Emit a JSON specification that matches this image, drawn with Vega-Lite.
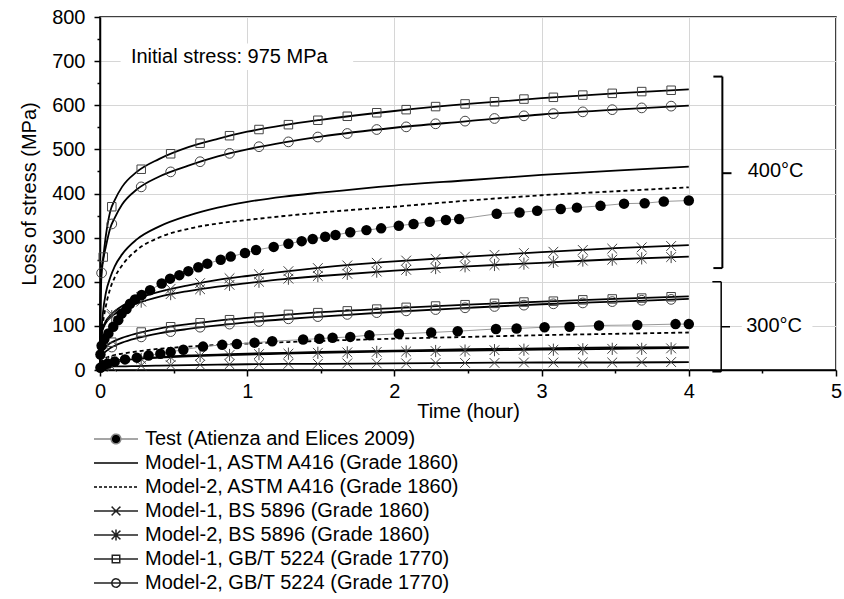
{
  "$schema": "https://vega.github.io/schema/vega-lite/v6.json",
  "autosize": {"type": "none"},
  "width": 736,
  "height": 353,
  "padding": {"left": 100, "top": 17, "right": 8, "bottom": 229},
  "config": {
    "font": "Liberation Sans",
    "view": {"stroke": "black", "strokeWidth": 1.5},
    "axis": {
      "labelFont": "Liberation Sans", "titleFont": "Liberation Sans",
      "labelFontSize": 20, "titleFontSize": 20, "titleFontWeight": "normal",
      "labelColor": "black", "titleColor": "black",
      "domainColor": "black", "domainWidth": 1.5,
      "tickColor": "black", "tickWidth": 1.5,
      "grid": true, "gridWidth": 1,
      "labelOverlap": false, "labelFlush": false
    },
    "legend": {
      "orient": "none", "legendX": -7, "legendY": 412, "direction": "vertical",
      "labelFont": "Liberation Sans", "labelFontSize": 20, "labelColor": "black",
      "symbolSize": 1936, "labelOffset": 6, "rowPadding": 4, "padding": 0,
      "clipHeight": 20, "labelLimit": 600, "symbolStrokeWidth": 1.5
    }
  },
  "datasets": {
    "curves": [
      {"code":"A1","temp":400,"t":0,"loss":0},{"code":"A1","temp":400,"t":0.001,"loss":30},{"code":"A1","temp":400,"t":0.005,"loss":65},{"code":"A1","temp":400,"t":0.01,"loss":90},{"code":"A1","temp":400,"t":0.02,"loss":130},{"code":"A1","temp":400,"t":0.04,"loss":175},{"code":"A1","temp":400,"t":0.07,"loss":210},{"code":"A1","temp":400,"t":0.1,"loss":235},{"code":"A1","temp":400,"t":0.15,"loss":262},{"code":"A1","temp":400,"t":0.25,"loss":296},{"code":"A1","temp":400,"t":0.4,"loss":325},{"code":"A1","temp":400,"t":0.6,"loss":350},{"code":"A1","temp":400,"t":0.8,"loss":368},{"code":"A1","temp":400,"t":1,"loss":381},{"code":"A1","temp":400,"t":1.25,"loss":393},{"code":"A1","temp":400,"t":1.5,"loss":402},{"code":"A1","temp":400,"t":2,"loss":418},{"code":"A1","temp":400,"t":2.5,"loss":430},{"code":"A1","temp":400,"t":3,"loss":442},{"code":"A1","temp":400,"t":3.5,"loss":452},{"code":"A1","temp":400,"t":4,"loss":461},
      {"code":"A2","temp":400,"t":0,"loss":0},{"code":"A2","temp":400,"t":0.001,"loss":25},{"code":"A2","temp":400,"t":0.005,"loss":50},{"code":"A2","temp":400,"t":0.01,"loss":70},{"code":"A2","temp":400,"t":0.02,"loss":105},{"code":"A2","temp":400,"t":0.04,"loss":145},{"code":"A2","temp":400,"t":0.07,"loss":185},{"code":"A2","temp":400,"t":0.1,"loss":210},{"code":"A2","temp":400,"t":0.15,"loss":237},{"code":"A2","temp":400,"t":0.25,"loss":272},{"code":"A2","temp":400,"t":0.4,"loss":300},{"code":"A2","temp":400,"t":0.6,"loss":320},{"code":"A2","temp":400,"t":0.8,"loss":332},{"code":"A2","temp":400,"t":1,"loss":340},{"code":"A2","temp":400,"t":1.25,"loss":349},{"code":"A2","temp":400,"t":1.5,"loss":357},{"code":"A2","temp":400,"t":2,"loss":370},{"code":"A2","temp":400,"t":2.5,"loss":384},{"code":"A2","temp":400,"t":3,"loss":396},{"code":"A2","temp":400,"t":3.5,"loss":405},{"code":"A2","temp":400,"t":4,"loss":414},
      {"code":"B1","temp":400,"t":0,"loss":0},{"code":"B1","temp":400,"t":0.001,"loss":52},{"code":"B1","temp":400,"t":0.005,"loss":72},{"code":"B1","temp":400,"t":0.01,"loss":83},{"code":"B1","temp":400,"t":0.02,"loss":96},{"code":"B1","temp":400,"t":0.04,"loss":111},{"code":"B1","temp":400,"t":0.07,"loss":124},{"code":"B1","temp":400,"t":0.1,"loss":133},{"code":"B1","temp":400,"t":0.15,"loss":145},{"code":"B1","temp":400,"t":0.25,"loss":161},{"code":"B1","temp":400,"t":0.4,"loss":177},{"code":"B1","temp":400,"t":0.6,"loss":192},{"code":"B1","temp":400,"t":0.8,"loss":204},{"code":"B1","temp":400,"t":1,"loss":213},{"code":"B1","temp":400,"t":1.25,"loss":223},{"code":"B1","temp":400,"t":1.5,"loss":232},{"code":"B1","temp":400,"t":2,"loss":246},{"code":"B1","temp":400,"t":2.5,"loss":257},{"code":"B1","temp":400,"t":3,"loss":267},{"code":"B1","temp":400,"t":3.5,"loss":276},{"code":"B1","temp":400,"t":4,"loss":283},
      {"code":"B2","temp":400,"t":0,"loss":0},{"code":"B2","temp":400,"t":0.001,"loss":53},{"code":"B2","temp":400,"t":0.005,"loss":72},{"code":"B2","temp":400,"t":0.01,"loss":82},{"code":"B2","temp":400,"t":0.02,"loss":93},{"code":"B2","temp":400,"t":0.04,"loss":107},{"code":"B2","temp":400,"t":0.07,"loss":119},{"code":"B2","temp":400,"t":0.1,"loss":127},{"code":"B2","temp":400,"t":0.15,"loss":137},{"code":"B2","temp":400,"t":0.25,"loss":151},{"code":"B2","temp":400,"t":0.4,"loss":166},{"code":"B2","temp":400,"t":0.6,"loss":179},{"code":"B2","temp":400,"t":0.8,"loss":189},{"code":"B2","temp":400,"t":1,"loss":197},{"code":"B2","temp":400,"t":1.25,"loss":206},{"code":"B2","temp":400,"t":1.5,"loss":213},{"code":"B2","temp":400,"t":2,"loss":225},{"code":"B2","temp":400,"t":2.5,"loss":235},{"code":"B2","temp":400,"t":3,"loss":243},{"code":"B2","temp":400,"t":3.5,"loss":251},{"code":"B2","temp":400,"t":4,"loss":257},
      {"code":"G1","temp":400,"t":0,"loss":0},{"code":"G1","temp":400,"t":0.001,"loss":90},{"code":"G1","temp":400,"t":0.005,"loss":180},{"code":"G1","temp":400,"t":0.01,"loss":225},{"code":"G1","temp":400,"t":0.02,"loss":250},{"code":"G1","temp":400,"t":0.04,"loss":305},{"code":"G1","temp":400,"t":0.07,"loss":360},{"code":"G1","temp":400,"t":0.1,"loss":385},{"code":"G1","temp":400,"t":0.15,"loss":415},{"code":"G1","temp":400,"t":0.25,"loss":449},{"code":"G1","temp":400,"t":0.4,"loss":478},{"code":"G1","temp":400,"t":0.6,"loss":505},{"code":"G1","temp":400,"t":0.8,"loss":524},{"code":"G1","temp":400,"t":1,"loss":540},{"code":"G1","temp":400,"t":1.25,"loss":555},{"code":"G1","temp":400,"t":1.5,"loss":567},{"code":"G1","temp":400,"t":2,"loss":587},{"code":"G1","temp":400,"t":2.5,"loss":603},{"code":"G1","temp":400,"t":3,"loss":616},{"code":"G1","temp":400,"t":3.5,"loss":627},{"code":"G1","temp":400,"t":4,"loss":636},
      {"code":"G2","temp":400,"t":0,"loss":0},{"code":"G2","temp":400,"t":0.001,"loss":75},{"code":"G2","temp":400,"t":0.005,"loss":160},{"code":"G2","temp":400,"t":0.01,"loss":215},{"code":"G2","temp":400,"t":0.02,"loss":245},{"code":"G2","temp":400,"t":0.04,"loss":280},{"code":"G2","temp":400,"t":0.07,"loss":322},{"code":"G2","temp":400,"t":0.1,"loss":345},{"code":"G2","temp":400,"t":0.15,"loss":375},{"code":"G2","temp":400,"t":0.25,"loss":409},{"code":"G2","temp":400,"t":0.4,"loss":438},{"code":"G2","temp":400,"t":0.6,"loss":463},{"code":"G2","temp":400,"t":0.8,"loss":484},{"code":"G2","temp":400,"t":1,"loss":500},{"code":"G2","temp":400,"t":1.25,"loss":516},{"code":"G2","temp":400,"t":1.5,"loss":529},{"code":"G2","temp":400,"t":2,"loss":549},{"code":"G2","temp":400,"t":2.5,"loss":564},{"code":"G2","temp":400,"t":3,"loss":579},{"code":"G2","temp":400,"t":3.5,"loss":590},{"code":"G2","temp":400,"t":4,"loss":599},
      {"code":"A1","temp":300,"t":0,"loss":0},{"code":"A1","temp":300,"t":0.001,"loss":7},{"code":"A1","temp":300,"t":0.005,"loss":10},{"code":"A1","temp":300,"t":0.01,"loss":12},{"code":"A1","temp":300,"t":0.02,"loss":14},{"code":"A1","temp":300,"t":0.04,"loss":17},{"code":"A1","temp":300,"t":0.07,"loss":19},{"code":"A1","temp":300,"t":0.1,"loss":21},{"code":"A1","temp":300,"t":0.15,"loss":23},{"code":"A1","temp":300,"t":0.25,"loss":26},{"code":"A1","temp":300,"t":0.4,"loss":29},{"code":"A1","temp":300,"t":0.6,"loss":33},{"code":"A1","temp":300,"t":0.8,"loss":35},{"code":"A1","temp":300,"t":1,"loss":37},{"code":"A1","temp":300,"t":1.25,"loss":39},{"code":"A1","temp":300,"t":1.5,"loss":41},{"code":"A1","temp":300,"t":2,"loss":44},{"code":"A1","temp":300,"t":2.5,"loss":47},{"code":"A1","temp":300,"t":3,"loss":49},{"code":"A1","temp":300,"t":3.5,"loss":51},{"code":"A1","temp":300,"t":4,"loss":52},
      {"code":"A2","temp":300,"t":0,"loss":0},{"code":"A2","temp":300,"t":0.001,"loss":11},{"code":"A2","temp":300,"t":0.005,"loss":16},{"code":"A2","temp":300,"t":0.01,"loss":19},{"code":"A2","temp":300,"t":0.02,"loss":23},{"code":"A2","temp":300,"t":0.04,"loss":27},{"code":"A2","temp":300,"t":0.07,"loss":31},{"code":"A2","temp":300,"t":0.1,"loss":34},{"code":"A2","temp":300,"t":0.15,"loss":37},{"code":"A2","temp":300,"t":0.25,"loss":42},{"code":"A2","temp":300,"t":0.4,"loss":48},{"code":"A2","temp":300,"t":0.6,"loss":53},{"code":"A2","temp":300,"t":0.8,"loss":57},{"code":"A2","temp":300,"t":1,"loss":60},{"code":"A2","temp":300,"t":1.25,"loss":63},{"code":"A2","temp":300,"t":1.5,"loss":66},{"code":"A2","temp":300,"t":2,"loss":71},{"code":"A2","temp":300,"t":2.5,"loss":75},{"code":"A2","temp":300,"t":3,"loss":79},{"code":"A2","temp":300,"t":3.5,"loss":82},{"code":"A2","temp":300,"t":4,"loss":85},
      {"code":"B1","temp":300,"t":0,"loss":0},{"code":"B1","temp":300,"t":0.001,"loss":3},{"code":"B1","temp":300,"t":0.005,"loss":4},{"code":"B1","temp":300,"t":0.01,"loss":5},{"code":"B1","temp":300,"t":0.02,"loss":5},{"code":"B1","temp":300,"t":0.04,"loss":6},{"code":"B1","temp":300,"t":0.07,"loss":7},{"code":"B1","temp":300,"t":0.1,"loss":8},{"code":"B1","temp":300,"t":0.15,"loss":8},{"code":"B1","temp":300,"t":0.25,"loss":9},{"code":"B1","temp":300,"t":0.4,"loss":10},{"code":"B1","temp":300,"t":0.6,"loss":11},{"code":"B1","temp":300,"t":0.8,"loss":12},{"code":"B1","temp":300,"t":1,"loss":13},{"code":"B1","temp":300,"t":1.25,"loss":14},{"code":"B1","temp":300,"t":1.5,"loss":14},{"code":"B1","temp":300,"t":2,"loss":15},{"code":"B1","temp":300,"t":2.5,"loss":16},{"code":"B1","temp":300,"t":3,"loss":17},{"code":"B1","temp":300,"t":3.5,"loss":17},{"code":"B1","temp":300,"t":4,"loss":18},
      {"code":"B2","temp":300,"t":0,"loss":0},{"code":"B2","temp":300,"t":0.001,"loss":6},{"code":"B2","temp":300,"t":0.005,"loss":9},{"code":"B2","temp":300,"t":0.01,"loss":11},{"code":"B2","temp":300,"t":0.02,"loss":13},{"code":"B2","temp":300,"t":0.04,"loss":16},{"code":"B2","temp":300,"t":0.07,"loss":18},{"code":"B2","temp":300,"t":0.1,"loss":20},{"code":"B2","temp":300,"t":0.15,"loss":22},{"code":"B2","temp":300,"t":0.25,"loss":25},{"code":"B2","temp":300,"t":0.4,"loss":28},{"code":"B2","temp":300,"t":0.6,"loss":31},{"code":"B2","temp":300,"t":0.8,"loss":33},{"code":"B2","temp":300,"t":1,"loss":35},{"code":"B2","temp":300,"t":1.25,"loss":37},{"code":"B2","temp":300,"t":1.5,"loss":39},{"code":"B2","temp":300,"t":2,"loss":42},{"code":"B2","temp":300,"t":2.5,"loss":44},{"code":"B2","temp":300,"t":3,"loss":46},{"code":"B2","temp":300,"t":3.5,"loss":48},{"code":"B2","temp":300,"t":4,"loss":50},
      {"code":"G1","temp":300,"t":0,"loss":0},{"code":"G1","temp":300,"t":0.001,"loss":21},{"code":"G1","temp":300,"t":0.005,"loss":31},{"code":"G1","temp":300,"t":0.01,"loss":37},{"code":"G1","temp":300,"t":0.02,"loss":44},{"code":"G1","temp":300,"t":0.04,"loss":53},{"code":"G1","temp":300,"t":0.07,"loss":61},{"code":"G1","temp":300,"t":0.1,"loss":66},{"code":"G1","temp":300,"t":0.15,"loss":73},{"code":"G1","temp":300,"t":0.25,"loss":83},{"code":"G1","temp":300,"t":0.4,"loss":94},{"code":"G1","temp":300,"t":0.6,"loss":104},{"code":"G1","temp":300,"t":0.8,"loss":112},{"code":"G1","temp":300,"t":1,"loss":118},{"code":"G1","temp":300,"t":1.25,"loss":125},{"code":"G1","temp":300,"t":1.5,"loss":131},{"code":"G1","temp":300,"t":2,"loss":140},{"code":"G1","temp":300,"t":2.5,"loss":148},{"code":"G1","temp":300,"t":3,"loss":155},{"code":"G1","temp":300,"t":3.5,"loss":161},{"code":"G1","temp":300,"t":4,"loss":167},
      {"code":"G2","temp":300,"t":0,"loss":0},{"code":"G2","temp":300,"t":0.001,"loss":15},{"code":"G2","temp":300,"t":0.005,"loss":23},{"code":"G2","temp":300,"t":0.01,"loss":28},{"code":"G2","temp":300,"t":0.02,"loss":35},{"code":"G2","temp":300,"t":0.04,"loss":42},{"code":"G2","temp":300,"t":0.07,"loss":50},{"code":"G2","temp":300,"t":0.1,"loss":55},{"code":"G2","temp":300,"t":0.15,"loss":62},{"code":"G2","temp":300,"t":0.25,"loss":72},{"code":"G2","temp":300,"t":0.4,"loss":83},{"code":"G2","temp":300,"t":0.6,"loss":93},{"code":"G2","temp":300,"t":0.8,"loss":101},{"code":"G2","temp":300,"t":1,"loss":108},{"code":"G2","temp":300,"t":1.25,"loss":115},{"code":"G2","temp":300,"t":1.5,"loss":121},{"code":"G2","temp":300,"t":2,"loss":132},{"code":"G2","temp":300,"t":2.5,"loss":141},{"code":"G2","temp":300,"t":3,"loss":149},{"code":"G2","temp":300,"t":3.5,"loss":155},{"code":"G2","temp":300,"t":4,"loss":161}
    ],
    "markers": [
      {"code":"G1","temp":400,"t":0.022,"loss":256},{"code":"G1","temp":400,"t":0.08,"loss":370},{"code":"G1","temp":400,"t":0.28,"loss":455},{"code":"G1","temp":400,"t":0.48,"loss":490},{"code":"G1","temp":400,"t":0.68,"loss":514},{"code":"G1","temp":400,"t":0.88,"loss":531},{"code":"G1","temp":400,"t":1.08,"loss":545},{"code":"G1","temp":400,"t":1.28,"loss":556},{"code":"G1","temp":400,"t":1.48,"loss":566},{"code":"G1","temp":400,"t":1.68,"loss":575},{"code":"G1","temp":400,"t":1.88,"loss":583},{"code":"G1","temp":400,"t":2.08,"loss":590},{"code":"G1","temp":400,"t":2.28,"loss":597},{"code":"G1","temp":400,"t":2.48,"loss":603},{"code":"G1","temp":400,"t":2.68,"loss":608},{"code":"G1","temp":400,"t":2.88,"loss":614},{"code":"G1","temp":400,"t":3.08,"loss":618},{"code":"G1","temp":400,"t":3.28,"loss":623},{"code":"G1","temp":400,"t":3.48,"loss":627},{"code":"G1","temp":400,"t":3.68,"loss":631},{"code":"G1","temp":400,"t":3.88,"loss":634},
      {"code":"G2","temp":400,"t":0.011,"loss":220},{"code":"G2","temp":400,"t":0.08,"loss":331},{"code":"G2","temp":400,"t":0.28,"loss":415},{"code":"G2","temp":400,"t":0.48,"loss":449},{"code":"G2","temp":400,"t":0.68,"loss":472},{"code":"G2","temp":400,"t":0.88,"loss":491},{"code":"G2","temp":400,"t":1.08,"loss":506},{"code":"G2","temp":400,"t":1.28,"loss":517},{"code":"G2","temp":400,"t":1.48,"loss":528},{"code":"G2","temp":400,"t":1.68,"loss":536},{"code":"G2","temp":400,"t":1.88,"loss":545},{"code":"G2","temp":400,"t":2.08,"loss":551},{"code":"G2","temp":400,"t":2.28,"loss":558},{"code":"G2","temp":400,"t":2.48,"loss":564},{"code":"G2","temp":400,"t":2.68,"loss":570},{"code":"G2","temp":400,"t":2.88,"loss":576},{"code":"G2","temp":400,"t":3.08,"loss":581},{"code":"G2","temp":400,"t":3.28,"loss":585},{"code":"G2","temp":400,"t":3.48,"loss":590},{"code":"G2","temp":400,"t":3.68,"loss":594},{"code":"G2","temp":400,"t":3.88,"loss":598},
      {"code":"B1","temp":400,"t":0.08,"loss":127},{"code":"B1","temp":400,"t":0.28,"loss":165},{"code":"B1","temp":400,"t":0.48,"loss":184},{"code":"B1","temp":400,"t":0.68,"loss":197},{"code":"B1","temp":400,"t":0.88,"loss":208},{"code":"B1","temp":400,"t":1.08,"loss":217},{"code":"B1","temp":400,"t":1.28,"loss":224},{"code":"B1","temp":400,"t":1.48,"loss":231},{"code":"B1","temp":400,"t":1.68,"loss":237},{"code":"B1","temp":400,"t":1.88,"loss":243},{"code":"B1","temp":400,"t":2.08,"loss":248},{"code":"B1","temp":400,"t":2.28,"loss":252},{"code":"B1","temp":400,"t":2.48,"loss":257},{"code":"B1","temp":400,"t":2.68,"loss":261},{"code":"B1","temp":400,"t":2.88,"loss":265},{"code":"B1","temp":400,"t":3.08,"loss":268},{"code":"B1","temp":400,"t":3.28,"loss":272},{"code":"B1","temp":400,"t":3.48,"loss":275},{"code":"B1","temp":400,"t":3.68,"loss":278},{"code":"B1","temp":400,"t":3.88,"loss":281},
      {"code":"B2","temp":400,"t":0.08,"loss":122},{"code":"B2","temp":400,"t":0.28,"loss":155},{"code":"B2","temp":400,"t":0.48,"loss":172},{"code":"B2","temp":400,"t":0.68,"loss":183},{"code":"B2","temp":400,"t":0.88,"loss":193},{"code":"B2","temp":400,"t":1.08,"loss":200},{"code":"B2","temp":400,"t":1.28,"loss":207},{"code":"B2","temp":400,"t":1.48,"loss":213},{"code":"B2","temp":400,"t":1.68,"loss":218},{"code":"B2","temp":400,"t":1.88,"loss":223},{"code":"B2","temp":400,"t":2.08,"loss":227},{"code":"B2","temp":400,"t":2.28,"loss":231},{"code":"B2","temp":400,"t":2.48,"loss":235},{"code":"B2","temp":400,"t":2.68,"loss":238},{"code":"B2","temp":400,"t":2.88,"loss":241},{"code":"B2","temp":400,"t":3.08,"loss":245},{"code":"B2","temp":400,"t":3.28,"loss":248},{"code":"B2","temp":400,"t":3.48,"loss":250},{"code":"B2","temp":400,"t":3.68,"loss":253},{"code":"B2","temp":400,"t":3.88,"loss":256},
      {"code":"G1","temp":300,"t":0.08,"loss":63},{"code":"G1","temp":300,"t":0.28,"loss":86},{"code":"G1","temp":300,"t":0.48,"loss":98},{"code":"G1","temp":300,"t":0.68,"loss":107},{"code":"G1","temp":300,"t":0.88,"loss":114},{"code":"G1","temp":300,"t":1.08,"loss":120},{"code":"G1","temp":300,"t":1.28,"loss":126},{"code":"G1","temp":300,"t":1.48,"loss":130},{"code":"G1","temp":300,"t":1.68,"loss":134},{"code":"G1","temp":300,"t":1.88,"loss":138},{"code":"G1","temp":300,"t":2.08,"loss":142},{"code":"G1","temp":300,"t":2.28,"loss":145},{"code":"G1","temp":300,"t":2.48,"loss":148},{"code":"G1","temp":300,"t":2.68,"loss":151},{"code":"G1","temp":300,"t":2.88,"loss":154},{"code":"G1","temp":300,"t":3.08,"loss":156},{"code":"G1","temp":300,"t":3.28,"loss":159},{"code":"G1","temp":300,"t":3.48,"loss":161},{"code":"G1","temp":300,"t":3.68,"loss":163},{"code":"G1","temp":300,"t":3.88,"loss":166},
      {"code":"G2","temp":300,"t":0.08,"loss":52},{"code":"G2","temp":300,"t":0.28,"loss":75},{"code":"G2","temp":300,"t":0.48,"loss":87},{"code":"G2","temp":300,"t":0.68,"loss":97},{"code":"G2","temp":300,"t":0.88,"loss":104},{"code":"G2","temp":300,"t":1.08,"loss":110},{"code":"G2","temp":300,"t":1.28,"loss":116},{"code":"G2","temp":300,"t":1.48,"loss":121},{"code":"G2","temp":300,"t":1.68,"loss":126},{"code":"G2","temp":300,"t":1.88,"loss":130},{"code":"G2","temp":300,"t":2.08,"loss":134},{"code":"G2","temp":300,"t":2.28,"loss":137},{"code":"G2","temp":300,"t":2.48,"loss":141},{"code":"G2","temp":300,"t":2.68,"loss":144},{"code":"G2","temp":300,"t":2.88,"loss":147},{"code":"G2","temp":300,"t":3.08,"loss":150},{"code":"G2","temp":300,"t":3.28,"loss":152},{"code":"G2","temp":300,"t":3.48,"loss":155},{"code":"G2","temp":300,"t":3.68,"loss":158},{"code":"G2","temp":300,"t":3.88,"loss":160},
      {"code":"B1","temp":300,"t":0.08,"loss":7},{"code":"B1","temp":300,"t":0.28,"loss":10},{"code":"B1","temp":300,"t":0.48,"loss":11},{"code":"B1","temp":300,"t":0.68,"loss":12},{"code":"B1","temp":300,"t":0.88,"loss":13},{"code":"B1","temp":300,"t":1.08,"loss":13},{"code":"B1","temp":300,"t":1.28,"loss":14},{"code":"B1","temp":300,"t":1.48,"loss":14},{"code":"B1","temp":300,"t":1.68,"loss":15},{"code":"B1","temp":300,"t":1.88,"loss":15},{"code":"B1","temp":300,"t":2.08,"loss":15},{"code":"B1","temp":300,"t":2.28,"loss":16},{"code":"B1","temp":300,"t":2.48,"loss":16},{"code":"B1","temp":300,"t":2.68,"loss":16},{"code":"B1","temp":300,"t":2.88,"loss":17},{"code":"B1","temp":300,"t":3.08,"loss":17},{"code":"B1","temp":300,"t":3.28,"loss":17},{"code":"B1","temp":300,"t":3.48,"loss":17},{"code":"B1","temp":300,"t":3.68,"loss":18},{"code":"B1","temp":300,"t":3.88,"loss":18},
      {"code":"B2","temp":300,"t":0.08,"loss":19},{"code":"B2","temp":300,"t":0.28,"loss":25},{"code":"B2","temp":300,"t":0.48,"loss":29},{"code":"B2","temp":300,"t":0.68,"loss":32},{"code":"B2","temp":300,"t":0.88,"loss":34},{"code":"B2","temp":300,"t":1.08,"loss":36},{"code":"B2","temp":300,"t":1.28,"loss":37},{"code":"B2","temp":300,"t":1.48,"loss":39},{"code":"B2","temp":300,"t":1.68,"loss":40},{"code":"B2","temp":300,"t":1.88,"loss":41},{"code":"B2","temp":300,"t":2.08,"loss":42},{"code":"B2","temp":300,"t":2.28,"loss":43},{"code":"B2","temp":300,"t":2.48,"loss":44},{"code":"B2","temp":300,"t":2.68,"loss":45},{"code":"B2","temp":300,"t":2.88,"loss":46},{"code":"B2","temp":300,"t":3.08,"loss":46},{"code":"B2","temp":300,"t":3.28,"loss":47},{"code":"B2","temp":300,"t":3.48,"loss":48},{"code":"B2","temp":300,"t":3.68,"loss":48},{"code":"B2","temp":300,"t":3.88,"loss":49}
    ],
    "test": [
      {"temp":400,"t":0.003,"loss":35},{"temp":400,"t":0.011,"loss":55},{"temp":400,"t":0.03,"loss":70},{"temp":400,"t":0.057,"loss":83},{"temp":400,"t":0.09,"loss":98},{"temp":400,"t":0.124,"loss":113},{"temp":400,"t":0.147,"loss":128},{"temp":400,"t":0.18,"loss":138},{"temp":400,"t":0.204,"loss":150},{"temp":400,"t":0.238,"loss":160},{"temp":400,"t":0.283,"loss":170},{"temp":400,"t":0.34,"loss":181},{"temp":400,"t":0.419,"loss":196},{"temp":400,"t":0.476,"loss":207},{"temp":400,"t":0.539,"loss":215},{"temp":400,"t":0.6,"loss":224},{"temp":400,"t":0.668,"loss":233},{"temp":400,"t":0.729,"loss":241},{"temp":400,"t":0.82,"loss":250},{"temp":400,"t":0.888,"loss":257},{"temp":400,"t":0.985,"loss":265},{"temp":400,"t":1.06,"loss":272},{"temp":400,"t":1.18,"loss":279},{"temp":400,"t":1.28,"loss":286},{"temp":400,"t":1.37,"loss":292},{"temp":400,"t":1.445,"loss":297},{"temp":400,"t":1.53,"loss":302},{"temp":400,"t":1.6,"loss":306},{"temp":400,"t":1.7,"loss":312},{"temp":400,"t":1.81,"loss":317},{"temp":400,"t":1.91,"loss":321},{"temp":400,"t":2.03,"loss":327},{"temp":400,"t":2.13,"loss":331},{"temp":400,"t":2.24,"loss":336},{"temp":400,"t":2.35,"loss":340},{"temp":400,"t":2.44,"loss":342},{"temp":400,"t":2.695,"loss":354},{"temp":400,"t":2.85,"loss":357},{"temp":400,"t":2.97,"loss":361},{"temp":400,"t":3.13,"loss":365},{"temp":400,"t":3.24,"loss":368},{"temp":400,"t":3.4,"loss":372},{"temp":400,"t":3.56,"loss":377},{"temp":400,"t":3.7,"loss":378},{"temp":400,"t":3.83,"loss":382},{"temp":400,"t":4.0,"loss":384},
      {"temp":300,"t":0.003,"loss":5},{"temp":300,"t":0.02,"loss":10},{"temp":300,"t":0.05,"loss":14},{"temp":300,"t":0.1,"loss":19},{"temp":300,"t":0.17,"loss":24},{"temp":300,"t":0.25,"loss":28},{"temp":300,"t":0.33,"loss":33},{"temp":300,"t":0.41,"loss":37},{"temp":300,"t":0.48,"loss":41},{"temp":300,"t":0.566,"loss":46},{"temp":300,"t":0.7,"loss":53},{"temp":300,"t":0.83,"loss":57},{"temp":300,"t":0.93,"loss":59},{"temp":300,"t":1.05,"loss":62},{"temp":300,"t":1.17,"loss":65},{"temp":300,"t":1.38,"loss":69},{"temp":300,"t":1.49,"loss":71},{"temp":300,"t":1.58,"loss":73},{"temp":300,"t":1.7,"loss":75},{"temp":300,"t":1.83,"loss":79},{"temp":300,"t":2.03,"loss":82},{"temp":300,"t":2.25,"loss":85},{"temp":300,"t":2.43,"loss":88},{"temp":300,"t":2.69,"loss":93},{"temp":300,"t":2.83,"loss":94},{"temp":300,"t":3.02,"loss":97},{"temp":300,"t":3.19,"loss":98},{"temp":300,"t":3.39,"loss":101},{"temp":300,"t":3.65,"loss":102},{"temp":300,"t":3.91,"loss":104},{"temp":300,"t":4.0,"loss":104}
    ]
  },
  "encoding": {
    "x": {
      "type": "quantitative",
      "scale": {"domain": [0, 5], "nice": false, "zero": false},
      "axis": {
        "title": "Time (hour)",
        "values": [0, 0.5, 1, 1.5, 2, 2.5, 3, 3.5, 4, 4.5, 5],
        "labelExpr": "datum.value % 1 === 0 ? format(datum.value, 'd') : ''",
        "tickSize": {"condition": {"test": "datum.value % 1 === 0", "value": 6}, "value": 3},
        "gridColor": {"condition": {"test": "datum.value % 1 === 0", "value": "#d6d6d6"}, "value": "transparent"},
        "labelPadding": 5,
        "titlePadding": 0
      }
    },
    "y": {
      "type": "quantitative",
      "scale": {"domain": [0, 800], "nice": false},
      "axis": {
        "title": "Loss of stress (MPa)",
        "values": [0, 50, 100, 150, 200, 250, 300, 350, 400, 450, 500, 550, 600, 650, 700, 750, 800],
        "labelExpr": "datum.value % 100 === 0 ? datum.label : ''",
        "tickSize": {"condition": {"test": "datum.value % 100 === 0", "value": 6}, "value": 3},
        "gridColor": {"condition": {"test": "datum.value % 100 === 0", "value": "#d6d6d6"}, "value": "transparent"},
        "labelPadding": 9,
        "titlePadding": 12
      }
    }
  },
  "layer": [
    {
      "data": {"values": [{}]},
      "mark": {"type": "rect", "fill": "white"},
      "encoding": {"x": {"datum": 0.14}, "x2": {"datum": 1.72}, "y": {"datum": 680}, "y2": {"datum": 740}}
    },
    {
      "data": {"values": [{}]},
      "mark": {"type": "rect", "fill": "white"},
      "encoding": {"x": {"datum": 4.36}, "x2": {"datum": 4.84}, "y": {"datum": 86}, "y2": {"datum": 114}}
    },
    {
      "data": {"name": "curves"},
      "transform": [{"filter": "datum.code !== 'A2'"}],
      "mark": {"type": "line", "color": "black", "strokeWidth": 1.8, "interpolate": "monotone"},
      "encoding": {"x": {"field": "t"}, "y": {"field": "loss"}, "detail": [{"field": "code"}, {"field": "temp"}]}
    },
    {
      "data": {"name": "curves"},
      "transform": [{"filter": "datum.code === 'A2'"}],
      "mark": {"type": "line", "color": "black", "strokeWidth": 1.8, "strokeDash": [4, 3], "interpolate": "monotone"},
      "encoding": {"x": {"field": "t"}, "y": {"field": "loss"}, "detail": {"field": "temp"}}
    },
    {
      "data": {"name": "test"},
      "mark": {"type": "line", "color": "#999999", "strokeWidth": 1},
      "encoding": {"x": {"field": "t"}, "y": {"field": "loss"}, "detail": {"field": "temp"}}
    },
    {
      "data": {"name": "markers"},
      "transform": [{"filter": "datum.code === 'G1'"}],
      "mark": {"type": "point", "shape": "square", "size": 72, "filled": false, "stroke": "#444444", "strokeWidth": 1, "opacity": 1},
      "encoding": {"x": {"field": "t"}, "y": {"field": "loss"}}
    },
    {
      "data": {"name": "markers"},
      "transform": [{"filter": "datum.code === 'G2'"}],
      "mark": {"type": "point", "shape": "circle", "size": 95, "filled": false, "stroke": "#444444", "strokeWidth": 1, "opacity": 1},
      "encoding": {"x": {"field": "t"}, "y": {"field": "loss"}}
    },
    {
      "data": {"name": "markers"},
      "transform": [{"filter": "datum.code === 'B1'"}],
      "mark": {"type": "point", "shape": "M-1,-1L1,1M-1,1L1,-1", "size": 95, "filled": false, "stroke": "#444444", "strokeWidth": 1, "opacity": 1},
      "encoding": {"x": {"field": "t"}, "y": {"field": "loss"}}
    },
    {
      "data": {"name": "markers"},
      "transform": [{"filter": "datum.code === 'B2'"}],
      "mark": {"type": "point", "shape": "M-1,-1L1,1M-1,1L1,-1M0,-1.25L0,1.25", "size": 95, "filled": false, "stroke": "#444444", "strokeWidth": 1, "opacity": 1},
      "encoding": {"x": {"field": "t"}, "y": {"field": "loss"}}
    },
    {
      "data": {"name": "test"},
      "mark": {"type": "point", "shape": "circle", "size": 110, "filled": true, "fill": "black", "opacity": 1, "strokeWidth": 0},
      "encoding": {"x": {"field": "t"}, "y": {"field": "loss"}}
    },
    {
      "data": {"values": []},
      "mark": {"type": "point", "strokeWidth": 1.5, "opacity": 1},
      "encoding": {
        "shape": {
          "field": "series", "type": "nominal", "title": null,
          "scale": {
            "domain": ["Test (Atienza and Elices 2009)", "Model-1, ASTM A416 (Grade 1860)", "Model-2, ASTM A416 (Grade 1860)", "Model-1, BS 5896 (Grade 1860)", "Model-2, BS 5896 (Grade 1860)", "Model-1, GB/T 5224 (Grade 1770)", "Model-2, GB/T 5224 (Grade 1770)"],
            "range": [
              "M-1,0H-0.22M0.22,0H1M0.22,0A0.22,0.22,0,1,1,-0.22,0A0.22,0.22,0,1,1,0.22,0Z",
              "M-1,0H1",
              "M-1,0H1",
              "M-1,0H1M-0.2,-0.2L0.2,0.2M-0.2,0.2L0.2,-0.2",
              "M-1,0H1M-0.2,-0.2L0.2,0.2M-0.2,0.2L0.2,-0.2M0,-0.25L0,0.25",
              "M-1,0H1M-0.17,-0.17H0.17V0.17H-0.17Z",
              "M-1,0H1M0.19,0A0.19,0.19,0,1,1,-0.19,0A0.19,0.19,0,1,1,0.19,0Z"
            ]
          }
        },
        "stroke": {
          "field": "series", "type": "nominal", "title": null,
          "scale": {
            "domain": ["Test (Atienza and Elices 2009)", "Model-1, ASTM A416 (Grade 1860)", "Model-2, ASTM A416 (Grade 1860)", "Model-1, BS 5896 (Grade 1860)", "Model-2, BS 5896 (Grade 1860)", "Model-1, GB/T 5224 (Grade 1770)", "Model-2, GB/T 5224 (Grade 1770)"],
            "range": ["#888888", "black", "black", "#222222", "#222222", "#222222", "#222222"]
          }
        },
        "fill": {
          "field": "series", "type": "nominal", "title": null,
          "scale": {
            "domain": ["Test (Atienza and Elices 2009)", "Model-1, ASTM A416 (Grade 1860)", "Model-2, ASTM A416 (Grade 1860)", "Model-1, BS 5896 (Grade 1860)", "Model-2, BS 5896 (Grade 1860)", "Model-1, GB/T 5224 (Grade 1770)", "Model-2, GB/T 5224 (Grade 1770)"],
            "range": ["black", "transparent", "transparent", "transparent", "transparent", "transparent", "transparent"]
          }
        },
        "strokeDash": {
          "field": "series", "type": "nominal", "title": null,
          "scale": {
            "domain": ["Test (Atienza and Elices 2009)", "Model-1, ASTM A416 (Grade 1860)", "Model-2, ASTM A416 (Grade 1860)", "Model-1, BS 5896 (Grade 1860)", "Model-2, BS 5896 (Grade 1860)", "Model-1, GB/T 5224 (Grade 1770)", "Model-2, GB/T 5224 (Grade 1770)"],
            "range": [[1, 0], [1, 0], [3, 2], [1, 0], [1, 0], [1, 0], [1, 0]]
          }
        }
      }
    },
    {
      "data": {"values": [{}]},
      "mark": {"type": "text", "text": "Initial stress: 975 MPa", "align": "left", "baseline": "middle", "fontSize": 20, "font": "Liberation Sans", "color": "black"},
      "encoding": {"x": {"datum": 0.21}, "y": {"datum": 710}}
    },
    {
      "data": {"values": [{}]},
      "mark": {"type": "text", "text": "400°C", "align": "left", "baseline": "middle", "fontSize": 20, "font": "Liberation Sans", "color": "black"},
      "encoding": {"x": {"datum": 4.4}, "y": {"datum": 452}}
    },
    {
      "data": {"values": [{}]},
      "mark": {"type": "text", "text": "300°C", "align": "left", "baseline": "middle", "fontSize": 20, "font": "Liberation Sans", "color": "black"},
      "encoding": {"x": {"datum": 4.39}, "y": {"datum": 100}}
    },
    {"data": {"values": [{}]}, "mark": {"type": "rule", "color": "black", "strokeWidth": 2}, "encoding": {"x": {"datum": 4.228}, "y": {"datum": 231}, "y2": {"datum": 665}}},
    {"data": {"values": [{}]}, "mark": {"type": "rule", "color": "black", "strokeWidth": 2}, "encoding": {"x": {"datum": 4.167}, "x2": {"datum": 4.228}, "y": {"datum": 665}}},
    {"data": {"values": [{}]}, "mark": {"type": "rule", "color": "black", "strokeWidth": 2}, "encoding": {"x": {"datum": 4.167}, "x2": {"datum": 4.228}, "y": {"datum": 231}}},
    {"data": {"values": [{}]}, "mark": {"type": "rule", "color": "black", "strokeWidth": 2}, "encoding": {"x": {"datum": 4.228}, "x2": {"datum": 4.29}, "y": {"datum": 446}}},
    {"data": {"values": [{}]}, "mark": {"type": "rule", "color": "black", "strokeWidth": 1.5}, "encoding": {"x": {"datum": 4.22}, "y": {"datum": -4}, "y2": {"datum": 200}}},
    {"data": {"values": [{}]}, "mark": {"type": "rule", "color": "black", "strokeWidth": 1.5}, "encoding": {"x": {"datum": 4.16}, "x2": {"datum": 4.22}, "y": {"datum": 200}}},
    {"data": {"values": [{}]}, "mark": {"type": "rule", "color": "black", "strokeWidth": 1.5}, "encoding": {"x": {"datum": 4.16}, "x2": {"datum": 4.22}, "y": {"datum": -4}}},
    {"data": {"values": [{}]}, "mark": {"type": "rule", "color": "black", "strokeWidth": 1.5}, "encoding": {"x": {"datum": 4.22}, "x2": {"datum": 4.28}, "y": {"datum": 98}}}
  ]
}
